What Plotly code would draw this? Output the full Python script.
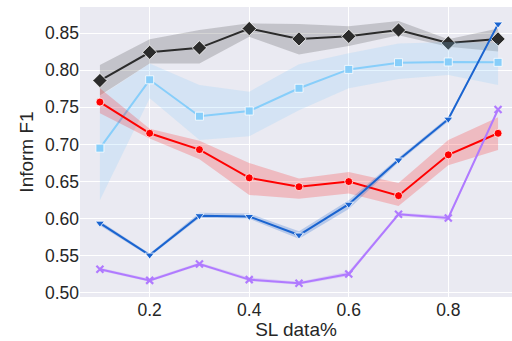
import plotly.graph_objects as go

x = [0.1, 0.2, 0.3, 0.4, 0.5, 0.6, 0.7, 0.8, 0.9]

black = [0.786, 0.824, 0.830, 0.856, 0.842, 0.8455, 0.854, 0.8365, 0.842]
black_hi = [0.807, 0.8415, 0.854, 0.863, 0.862, 0.859, 0.866, 0.8415, 0.856]
black_lo = [0.766, 0.809, 0.809, 0.845, 0.821, 0.8325, 0.847, 0.8315, 0.825]

lblue = [0.695, 0.787, 0.738, 0.745, 0.7756, 0.801, 0.810, 0.811, 0.8105]
lblue_hi = [0.765, 0.809, 0.780, 0.771, 0.808, 0.8227, 0.836, 0.838, 0.8365]
lblue_lo = [0.625, 0.762, 0.706, 0.711, 0.746, 0.7756, 0.788, 0.7935, 0.780]

red = [0.757, 0.715, 0.693, 0.655, 0.643, 0.650, 0.631, 0.686, 0.715]
red_hi = [0.7756, 0.721, 0.705, 0.675, 0.654, 0.663, 0.648, 0.706, 0.7365]
red_lo = [0.742, 0.708, 0.680, 0.632, 0.627, 0.634, 0.617, 0.672, 0.6925]

blue = [0.594, 0.551, 0.604, 0.603, 0.578, 0.6195, 0.679, 0.734, 0.862]
blue_hi = [0.597, 0.553, 0.608, 0.607, 0.583, 0.625, 0.682, 0.737, 0.863]
blue_lo = [0.591, 0.549, 0.601, 0.600, 0.573, 0.613, 0.676, 0.731, 0.861]

purple = [0.532, 0.517, 0.539, 0.518, 0.513, 0.5256, 0.606, 0.601, 0.747]
purple_hi = [0.534, 0.519, 0.541, 0.521, 0.515, 0.529, 0.608, 0.604, 0.748]
purple_lo = [0.530, 0.515, 0.537, 0.516, 0.511, 0.523, 0.604, 0.598, 0.746]

y_ticks = [0.50, 0.55, 0.60, 0.65, 0.70, 0.75, 0.80, 0.85]
x_ticks = [0.2, 0.4, 0.6, 0.8]

series = [
    (black, black_hi, black_lo, "#2b2b2b", "rgba(60,60,60,0.22)", "diamond", 11),
    (lblue, lblue_hi, lblue_lo, "#87CEFA", "rgba(135,206,250,0.22)", "square", 8),
    (red, red_hi, red_lo, "#ff0000", "rgba(255,0,0,0.2)", "circle", 8),
    (blue, blue_hi, blue_lo, "#1a64d0", "rgba(26,100,208,0.25)", "triangle-down", 8),
    (purple, purple_hi, purple_lo, "#b07aff", "rgba(176,122,255,0.25)", "x-thin-open", 7),
]

fig = go.Figure()
for ys, hi, lo, col, fcol, sym, sz in series:
    fig.add_trace(go.Scatter(
        x=x + x[::-1], y=hi + lo[::-1], fill="toself", fillcolor=fcol,
        line=dict(width=0), mode="lines", hoverinfo="skip", showlegend=False))
    mk = dict(symbol=sym, size=sz, color=col, line=dict(width=0.8, color="white"))
    if sym == "x-thin-open":
        mk = dict(symbol=sym, size=sz, color=col, line=dict(width=2.2, color=col))
    fig.add_trace(go.Scatter(
        x=x, y=ys, mode="lines+markers", line=dict(color=col, width=2),
        marker=mk, showlegend=False, cliponaxis=False))

fig.update_layout(
    width=512, height=341,
    margin=dict(l=80, r=0, t=7, b=44),
    paper_bgcolor="white", plot_bgcolor="#EAEAF2",
    font=dict(family="Liberation Sans, Arial, sans-serif", color="#262626"),
)
fig.update_xaxes(
    range=[0.06, 0.928], tickvals=x_ticks, ticktext=[f"{v:.1f}" for v in x_ticks],
    showgrid=True, gridcolor="white", gridwidth=1, zeroline=False, automargin=False,
    tickfont=dict(size=17.5), title=dict(text="SL data%", font=dict(size=19), standoff=0),
    ticks="", showline=False,
)
fig.update_yaxes(
    range=[0.4946, 0.885], tickvals=y_ticks, ticktext=[f"{v:.2f}" for v in y_ticks],
    showgrid=True, gridcolor="white", gridwidth=1, zeroline=False, automargin=False,
    tickfont=dict(size=17.5), title=dict(text="Inform F1", font=dict(size=19), standoff=6),
    ticks="", showline=False,
)
fig.write_html("out.html", config={"displayModeBar": False},
               post_script="document.body.style.margin='0';")
